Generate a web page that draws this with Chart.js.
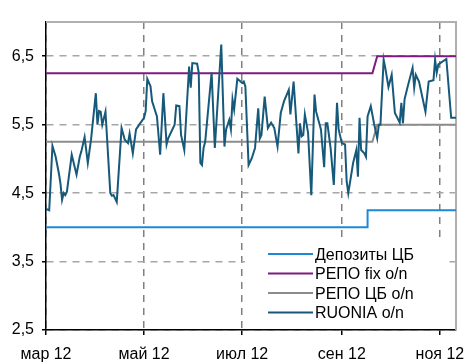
<!DOCTYPE html>
<html>
<head>
<meta charset="utf-8">
<script src="https://cdn.jsdelivr.net/npm/chart.js@4"></script>
<style>
  html, body { margin: 0; padding: 0; background: #fff; }
</style>
</head>
<body>
<canvas id="rates-chart" width="464" height="364"></canvas>
<script>
// x axis is counted in days from 1 March 2012
const monthDays = [0, 61, 122, 184, 245];
const monthLabels = ["мар 12", "май 12", "июл 12", "сен 12", "ноя 12"];
const rateTicks = [2.5, 3.5, 4.5, 5.5, 6.5];

const depositDays = [0, 200, 200, 255];
const depositRates = [4.0, 4.0, 4.25, 4.25];

const repoFixDays = [0, 203, 206, 255];
const repoFixRates = [6.25, 6.25, 6.5, 6.5];

const repoCbDays = [0, 203, 206, 255];
const repoCbRates = [5.25, 5.25, 5.5, 5.5];

const ruoniaDays = [
  0, 2, 4, 6, 8, 9, 10, 11, 12, 13, 16, 19, 21, 22, 24, 26, 28, 31, 32, 33,
  34, 35, 37, 40, 41, 42, 44, 47, 49, 51, 52, 54, 56, 58, 61, 62, 63, 65, 66, 69,
  71, 73, 75, 76, 80, 81, 83, 84, 86, 89, 90, 91, 94, 95, 96, 97, 98, 99, 103, 105,
  109, 111, 112, 114, 115, 116, 117, 119, 121, 122, 123, 124, 126, 128, 130, 132, 133, 134, 136, 138,
  140, 142, 144, 146, 148, 151, 152, 154, 157, 158, 159, 160, 161, 163, 165, 167, 168, 171, 173, 174,
  175, 177, 179, 181, 182, 184, 186, 187, 188, 191, 193, 194, 195, 196, 198, 199, 200, 202, 204, 206,
  207, 208, 210, 211, 213, 215, 217, 220, 221, 222, 223, 225, 228, 229, 230, 232, 236, 238, 241, 242,
  243, 244, 249, 252, 255
];
const ruoniaRates = [
  4.27, 4.25, 5.19, 5.03, 4.79, 4.64, 4.40, 4.50, 4.47, 4.52, 5.06, 4.77, 5.03, 5.11, 5.32, 4.94, 5.28, 5.96, 5.50, 5.70,
  5.69, 5.50, 5.69, 4.50, 4.46, 4.47, 4.37, 5.45, 5.28, 5.23, 5.37, 5.08, 5.43, 5.50, 5.60, 5.70, 6.17, 6.06, 5.84, 5.62,
  5.06, 5.96, 5.21, 5.30, 5.50, 5.78, 5.77, 5.35, 5.13, 6.35, 6.04, 6.40, 6.39, 6.26, 4.94, 4.91, 5.16, 5.25, 6.26, 5.16,
  6.67, 5.18, 5.43, 5.57, 5.43, 5.87, 5.72, 6.17, 6.13, 6.11, 6.13, 6.06, 4.91, 5.01, 5.16, 5.74, 5.30, 5.35, 5.91, 5.45,
  5.53, 5.45, 5.18, 5.67, 5.84, 6.01, 5.65, 6.13, 5.08, 5.52, 5.33, 5.35, 5.65, 5.38, 4.47, 5.94, 5.69, 5.43, 4.88, 5.52,
  5.52, 5.16, 4.62, 5.82, 5.43, 5.23, 5.21, 4.67, 4.50, 4.94, 5.13, 4.74, 5.60, 5.13, 5.08, 5.03, 5.62, 5.77, 5.52, 5.30,
  5.50, 5.50, 6.45, 6.33, 6.05, 6.23, 5.67, 5.53, 5.82, 5.52, 5.87, 6.06, 6.33, 6.04, 6.23, 6.13, 5.69, 6.13, 6.15, 6.45,
  6.26, 6.38, 6.46, 5.60, 5.60
];

const FONT = '"Liberation Sans", Arial, sans-serif';

function toPoints(days, values) {
  return days.map((d, i) => ({ x: d, y: values[i] }));
}

function lineSet(label, days, values, color, order) {
  return {
    label,
    data: toPoints(days, values),
    borderColor: color,
    backgroundColor: color,
    borderWidth: 2,
    pointRadius: 0,
    tension: 0,
    fill: false,
    order,
  };
}

// gray frame on the top and right sides of the plot
const frame = {
  id: "frame",
  beforeDatasetsDraw(chart) {
    const { ctx, chartArea: a } = chart;
    ctx.save();
    ctx.strokeStyle = "#b0b0b0";
    ctx.lineWidth = 2;
    ctx.beginPath();
    ctx.moveTo(a.left, a.top);
    ctx.lineTo(a.right, a.top);
    ctx.lineTo(a.right, a.bottom);
    ctx.stroke();
    ctx.restore();
  },
};

// legend box in the lower right part of the plot
const boxLegend = {
  id: "boxLegend",
  beforeDatasetsDraw(chart) {
    const { ctx } = chart;
    ctx.save();
    ctx.fillStyle = "#fff";
    ctx.fillRect(245, 240, 203, 88);
    ctx.font = "16px " + FONT;
    ctx.textBaseline = "middle";
    ctx.textAlign = "left";
    chart.data.datasets.forEach((ds, i) => {
      const y = 254 + i * 19.5;
      ctx.strokeStyle = ds.borderColor;
      ctx.lineWidth = 2;
      ctx.beginPath();
      ctx.moveTo(268, y);
      ctx.lineTo(313, y);
      ctx.stroke();
      ctx.fillStyle = "#000";
      ctx.fillText(ds.label, 315, y + 1.5);
    });
    ctx.restore();
  },
};

new Chart(document.getElementById("rates-chart"), {
  type: "line",
  data: {
    datasets: [
      lineSet("Депозиты ЦБ", depositDays, depositRates, "#1e88d6", 1),
      lineSet("РЕПО fix o/n", repoFixDays, repoFixRates, "#7f1a80", 1),
      lineSet("РЕПО ЦБ o/n", repoCbDays, repoCbRates, "#8c8c8c", 1),
      lineSet("RUONIA o/n", ruoniaDays, ruoniaRates, "#17597a", 0),
    ],
  },
  options: {
    responsive: false,
    animation: false,
    layout: { padding: { top: 22, right: 8, left: 0, bottom: 0 } },
    plugins: {
      legend: { display: false },
      tooltip: { enabled: false },
    },
    scales: {
      x: {
        type: "linear",
        min: 0,
        max: 255,
        afterBuildTicks: (scale) => {
          scale.ticks = monthDays.map((v) => ({ value: v }));
        },
        afterFit: (scale) => {
          scale.height = 34;
          scale.paddingLeft = 0;
          scale.paddingRight = 0;
        },
        ticks: {
          autoSkip: false,
          maxRotation: 0,
          padding: 10,
          color: "#000",
          font: { family: FONT, size: 16 },
          callback: (value, index) => monthLabels[index],
        },
        grid: {
          color: "#808080",
          lineWidth: 1.5,
          tickLength: 5,
          tickColor: "#000",
          tickWidth: 1.5,
          tickBorderDash: [10, 0],
        },
        border: { color: "#000", width: 1.5, dash: [7, 6] },
      },
      y: {
        min: 2.5,
        max: 7,
        afterBuildTicks: (scale) => {
          scale.ticks = rateTicks.map((v) => ({ value: v }));
        },
        afterFit: (scale) => {
          scale.width = 46;
          scale.paddingTop = 0;
          scale.paddingBottom = 0;
        },
        ticks: {
          padding: 8,
          color: "#000",
          font: { family: FONT, size: 16 },
          callback: (value) => value.toFixed(1).replace(".", ","),
        },
        grid: {
          color: "#a6a6a6",
          lineWidth: 1.5,
          tickLength: 4,
          tickColor: "#000",
          tickWidth: 1.5,
          tickBorderDash: [10, 0],
        },
        border: { color: "#000", width: 1.5, dash: [7, 6] },
      },
    },
  },
  plugins: [frame, boxLegend],
});
</script>
</body>
</html>
